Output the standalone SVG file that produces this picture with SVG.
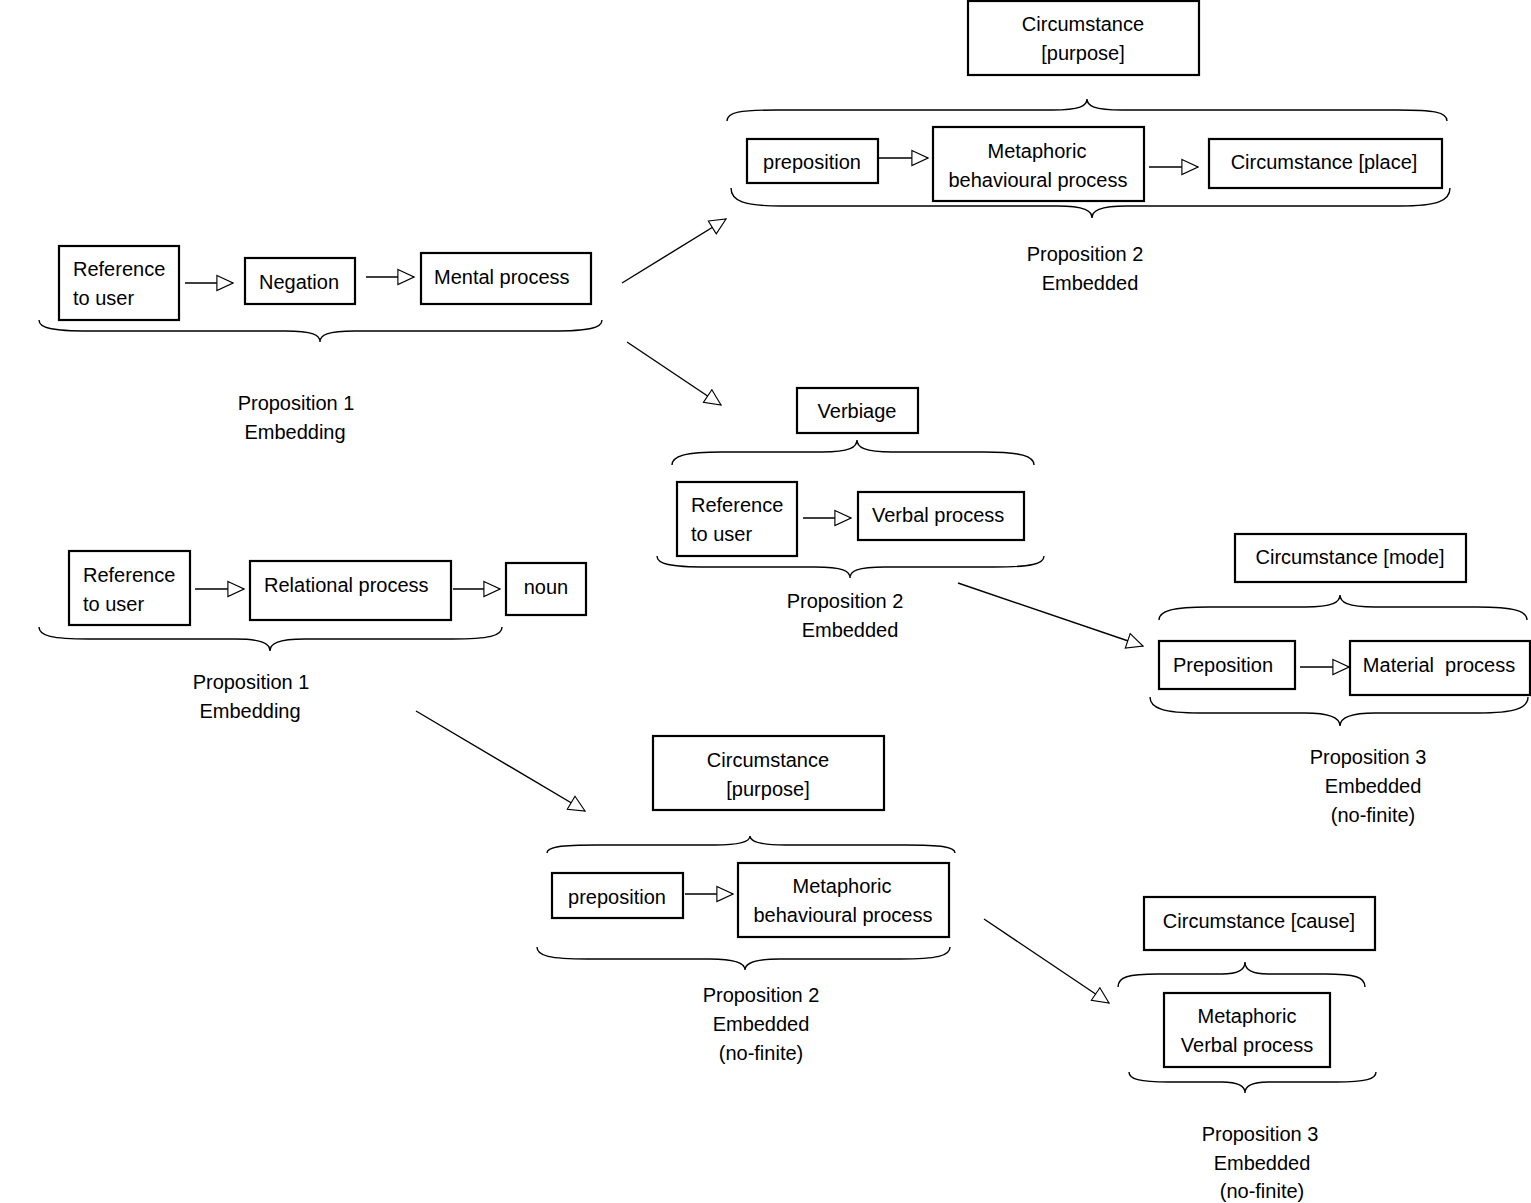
<svg xmlns="http://www.w3.org/2000/svg" width="1531" height="1203" viewBox="0 0 1531 1203">
<style>
.box{fill:#fff;stroke:#000;stroke-width:2.2}
.t{font-family:"Liberation Sans",Arial,sans-serif;font-size:20px;fill:#000}
.c{text-anchor:middle}
.br{fill:none;stroke:#000;stroke-width:1.4}
.ar{fill:none;stroke:#000;stroke-width:1.4;marker-end:url(#tri)}
</style>
<defs>
<marker id="tri" markerUnits="userSpaceOnUse" markerWidth="18" markerHeight="18" refX="17" refY="8" orient="auto" viewBox="-1 -1 19 18">
<path d="M0,0 L17,8 L0,16 Z" fill="#fff" stroke="#000" stroke-width="1.2"/>
</marker>
</defs>
<rect width="1531" height="1203" fill="#fff"/>

<!-- Top right cluster -->
<g id="circ-purpose-1"><rect class="box" x="968" y="1" width="231" height="74"/><text class="t c" x="1083" y="31">Circumstance</text><text class="t c" x="1083" y="60">[purpose]</text></g>
<g id="prep-1"><rect class="box" x="747" y="139" width="131" height="44"/><text class="t c" x="812" y="169">preposition</text></g>
<g id="metabeh-1"><rect class="box" x="933" y="127" width="211" height="74"/><text class="t c" x="1037" y="158">Metaphoric</text><text class="t c" x="1038" y="187">behavioural process</text></g>
<g id="circ-place"><rect class="box" x="1209" y="139" width="233" height="49"/><text class="t c" x="1324" y="169">Circumstance [place]</text></g>
<g id="prop2-top"><text class="t c" x="1085" y="261">Proposition 2</text><text class="t c" x="1090" y="290">Embedded</text></g>

<!-- Left top -->
<g id="ref-1"><rect class="box" x="59" y="246" width="120" height="74"/><text class="t" x="73" y="276">Reference</text><text class="t" x="73" y="305">to user</text></g>
<g id="negation"><rect class="box" x="245" y="258" width="110" height="46"/><text class="t c" x="299" y="289">Negation</text></g>
<g id="mental"><rect class="box" x="421" y="253" width="170" height="51"/><text class="t" x="434" y="284">Mental process</text></g>
<g id="prop1-top"><text class="t c" x="296" y="410">Proposition 1</text><text class="t c" x="295" y="439">Embedding</text></g>

<!-- Verbiage cluster -->
<g id="verbiage"><rect class="box" x="797" y="388" width="121" height="45"/><text class="t c" x="857" y="418">Verbiage</text></g>
<g id="ref-2"><rect class="box" x="677" y="482" width="120" height="74"/><text class="t" x="691" y="512">Reference</text><text class="t" x="691" y="541">to user</text></g>
<g id="verbal"><rect class="box" x="858" y="492" width="166" height="48"/><text class="t" x="872" y="522">Verbal process</text></g>
<g id="prop2-mid"><text class="t c" x="845" y="608">Proposition 2</text><text class="t c" x="850" y="637">Embedded</text></g>

<!-- Mode cluster -->
<g id="circ-mode"><rect class="box" x="1235" y="534" width="231" height="48"/><text class="t c" x="1350" y="564">Circumstance [mode]</text></g>
<g id="prep-cap"><rect class="box" x="1159" y="641" width="136" height="48"/><text class="t c" x="1223" y="672">Preposition</text></g>
<g id="material"><rect class="box" x="1350" y="641" width="180" height="54"/><text class="t c" x="1439" y="672" xml:space="preserve">Material  process</text></g>
<g id="prop3-mid"><text class="t c" x="1368" y="764">Proposition 3</text><text class="t c" x="1373" y="793">Embedded</text><text class="t c" x="1373" y="822">(no-finite)</text></g>

<!-- Left bottom -->
<g id="ref-3"><rect class="box" x="69" y="551" width="121" height="74"/><text class="t" x="83" y="582">Reference</text><text class="t" x="83" y="611">to user</text></g>
<g id="relational"><rect class="box" x="250" y="561" width="201" height="59"/><text class="t" x="264" y="592">Relational process</text></g>
<g id="noun"><rect class="box" x="506" y="563" width="80" height="52"/><text class="t c" x="546" y="594">noun</text></g>
<g id="prop1-bot"><text class="t c" x="251" y="689">Proposition 1</text><text class="t c" x="250" y="718">Embedding</text></g>

<!-- Bottom middle -->
<g id="circ-purpose-2"><rect class="box" x="653" y="736" width="231" height="74"/><text class="t c" x="768" y="767">Circumstance</text><text class="t c" x="768" y="796">[purpose]</text></g>
<g id="prep-2"><rect class="box" x="552" y="873" width="131" height="45"/><text class="t c" x="617" y="904">preposition</text></g>
<g id="metabeh-2"><rect class="box" x="738" y="863" width="211" height="74"/><text class="t c" x="842" y="893">Metaphoric</text><text class="t c" x="843" y="922">behavioural process</text></g>
<g id="prop2-bot"><text class="t c" x="761" y="1002">Proposition 2</text><text class="t c" x="761" y="1031">Embedded</text><text class="t c" x="761" y="1060">(no-finite)</text></g>

<!-- Bottom right -->
<g id="circ-cause"><rect class="box" x="1144" y="897" width="231" height="53"/><text class="t c" x="1259" y="928">Circumstance [cause]</text></g>
<g id="metaverbal"><rect class="box" x="1164" y="993" width="166" height="74"/><text class="t c" x="1247" y="1023">Metaphoric</text><text class="t c" x="1247" y="1052">Verbal process</text></g>
<g id="prop3-bot"><text class="t c" x="1260" y="1141">Proposition 3</text><text class="t c" x="1262" y="1170">Embedded</text><text class="t c" x="1262" y="1198">(no-finite)</text></g>

<!-- Braces -->
<g id="braces">
<path class="br" d="M727,121 C727,112 740,110 777,110 L1052,110 C1080,110 1087,106 1087,99 C1087,106 1094,110 1122,110 L1397,110 C1434,110 1447,112 1447,121"/>
<path class="br" d="M731,188 C731,201 744,206 781,206 L1057,206 C1085,206 1092,211 1092,218 C1092,211 1099,206 1127,206 L1400,206 C1437,206 1450,201 1450,188"/>
<path class="br" d="M39,320 C39,328 52,331 89,331 L285,331 C313,331 320,335 320,342 C320,335 327,331 355,331 L552,331 C589,331 602,328 602,320"/>
<path class="br" d="M672,465 C672,456 685,452 722,452 L822,452 C850,452 857,447 857,440 C857,447 864,452 892,452 L984,452 C1021,452 1034,456 1034,465"/>
<path class="br" d="M657,556 C657,564 670,567 707,567 L815,567 C843,567 850,571 850,578 C850,571 857,567 885,567 L994,567 C1031,567 1044,564 1044,556"/>
<path class="br" d="M1159,620 C1159,611 1172,607 1209,607 L1305,607 C1333,607 1340,602 1340,595 C1340,602 1347,607 1375,607 L1477,607 C1514,607 1527,611 1527,620"/>
<path class="br" d="M1150,697 C1150,708 1163,713 1200,713 L1305,713 C1333,713 1340,719 1340,726 C1340,719 1347,713 1375,713 L1478,713 C1515,713 1528,708 1528,697"/>
<path class="br" d="M39,627 C39,636 52,639 89,639 L235,639 C263,639 270,644 270,651 C270,644 277,639 305,639 L452,639 C489,639 502,636 502,627"/>
<path class="br" d="M547,853 C547,847 560,845 597,845 L715,845 C743,845 750,841 750,836 C750,841 757,845 785,845 L905,845 C942,845 955,847 955,853"/>
<path class="br" d="M537,947 C537,956 550,959 587,959 L710,959 C738,959 745,964 745,970 C745,964 752,959 780,959 L900,959 C937,959 950,956 950,947"/>
<path class="br" d="M1118,987 C1118,977 1128,974 1158,974 L1222,974 C1240,974 1245,969 1245,962 C1245,969 1250,974 1268,974 L1325,974 C1355,974 1365,977 1365,987"/>
<path class="br" d="M1129,1072 C1129,1079 1139,1082 1169,1082 L1222,1082 C1240,1082 1245,1087 1245,1093 C1245,1087 1250,1082 1268,1082 L1336,1082 C1366,1082 1376,1079 1376,1072"/>
</g>

<!-- Connectors -->
<g id="connectors">
<line class="ar" x1="185" y1="283" x2="233" y2="283"/>
<line class="ar" x1="366" y1="277" x2="414" y2="277"/>
<line class="ar" x1="879" y1="158" x2="928" y2="158"/>
<line class="ar" x1="1149" y1="167" x2="1198" y2="167"/>
<line class="ar" x1="803" y1="518" x2="851" y2="518"/>
<line class="ar" x1="1300" y1="667" x2="1349" y2="667"/>
<line class="ar" x1="195" y1="589" x2="244" y2="589"/>
<line class="ar" x1="453" y1="589" x2="500" y2="589"/>
<line class="ar" x1="685" y1="894" x2="733" y2="894"/>
<line class="ar" x1="622" y1="283" x2="726" y2="219"/>
<line class="ar" x1="627" y1="342" x2="721" y2="405"/>
<line class="ar" x1="958" y1="583" x2="1143" y2="646"/>
<line class="ar" x1="416" y1="711" x2="585" y2="811"/>
<line class="ar" x1="984" y1="919" x2="1109" y2="1003"/>
</g>
</svg>
